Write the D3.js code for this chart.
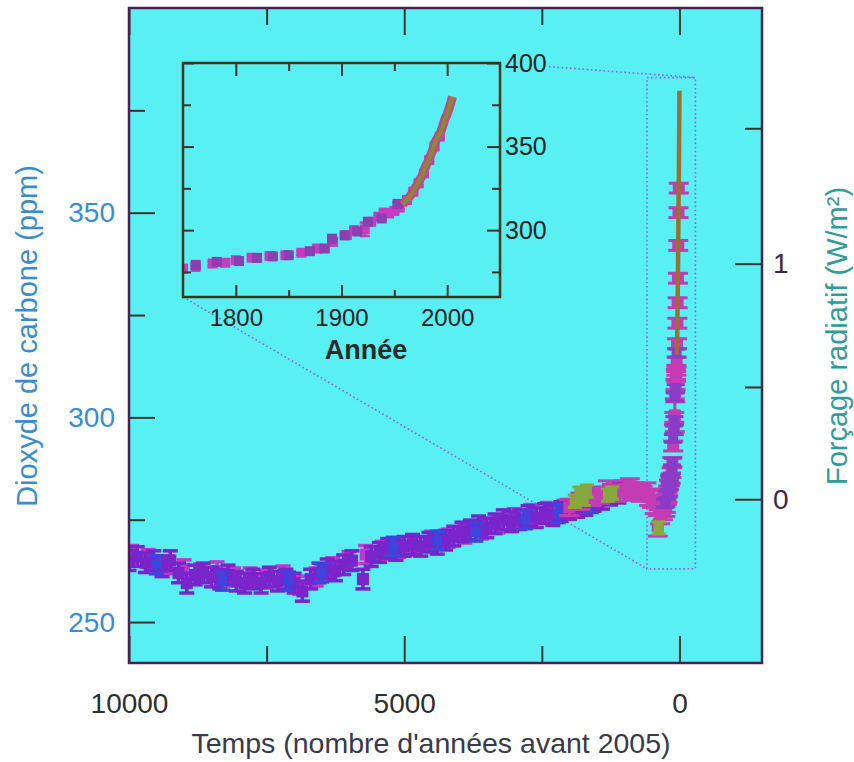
<!DOCTYPE html>
<html>
<head>
<meta charset="UTF-8" />
<title>co2</title>
<script src="https://cdnjs.cloudflare.com/ajax/libs/d3/7.8.5/d3.min.js"></script>
<style>
  body { margin: 0; background: #fff; }
  text { font-family: "Liberation Sans", Arial, sans-serif; }
</style>
</head>
<body>
<svg width="854" height="762"></svg>
<script>
  // ---- data ----
  // holocene ice cores: [years before 2005, ppm]
  var taylorBP = [[10000,265],[9850,266],[9700,264.5],[9550,265],[9400,263.5],[9250,265],[9100,262],[8950,259.5],
    [8800,261.5],[8650,262],[8500,261],[8350,260.5],[8200,261.5],[8050,260],[7900,259.5],[7750,260.5],[7600,259.5],
    [7450,261],[7300,260],[7150,260.5],[7000,259.5],[6850,257.5],[6700,260.5],[6550,262],[6400,263],[6250,262.5],
    [6100,264],[5950,265],[5750,260.5],[5600,266],[5450,267],[5300,268],[5150,267.5],[5000,268.5],[4850,269],
    [4700,268.5],[4550,269.5],[4400,269],[4250,270],[4100,271],[3950,272],[3800,272.5],[3650,273.5],[3500,273],
    [3350,274],[3200,275],[3050,274.5],[2900,275],[2750,276],[2600,275.5],[2450,276.5],[2300,276],[2150,277],
    [2000,277.5],[1850,278],[1700,278.5],[1550,279.5],[1400,280],[1250,281],[1100,281.5]];
  var domeCBP = [[9950,266.5],[9650,265.5],[9300,264],[9000,263],[8700,262],[8400,262.5],[8100,261],[7800,261],
    [7500,260.5],[7200,261.5],[6900,259],[6600,261],[6300,263.5],[6000,265],[5700,266.5],[5400,267.5],[5100,268],
    [4800,268.5],[4500,270],[4200,270.5],[3900,271.5],[3600,272.5],[3300,274],[3000,275.5],[2700,276.5],[2400,277],
    [2100,277.5],[1800,279],[1500,280],[1200,281.5],[900,282]];
  var byrdBP = [[9500,264],[8300,260],[7100,260],[6500,262],[5200,268.5],[4400,270],[3700,272],[2800,275],
    [2200,276.5],[1600,279]];
  var greenBP = [[1900,279.5],[1820,281.5],[1740,280],[1680,282],[1300,281],[1220,281.5],[380,273]];
  // last two millennia: [calendar year, ppm, error]
  var lawDome = [[5,278,2],[205,279.5,2],[405,280.5,2],[555,281,2],[705,282.5,2],[855,281.5,2],[1005,282.5,2],
    [1105,283,2],[1205,282,2],[1305,281.5,2],[1405,282,2],[1455,280.5,2],[1505,280,2],[1555,278.5,2],[1610,273.5,2.5],
    [1655,276,2],[1705,277,2],[1750,277,1.2],[1762,278,1.2],[1778,280,1.2],[1790,280.5,1.2],[1800,282,1.2],
    [1815,283.5,1.2],[1832,284.5,1.2],[1847,285,1.2],[1862,286.5,1.2],[1877,289,1.2],[1892,293,1.2],[1905,297,1.2],
    [1912,300,1.2],[1922,300.5,4],[1928,305,1.2],[1935,308,1.2],[1940,310.5,1.2],[1945,310,1.2],[1950,311.5,1.2],
    [1955,313.5,1.2],[1962,318,1.2],[1968,323,1.2],[1973,328,1.2],[1978,334,1.2],[1983,342,1.2],[1988,350,1.2],
    [1993,356,1.2]];
  var siple = [[1744,279,1],[1762,279.2,1],[1782,281,1],[1803,281.5,1],[1820,283.4,1],[1835,284.3,1],[1850,285,1],
    [1870,287.4,1],[1884,289,1],[1891,294.9,1],[1903,296.9,1],[1915,299.2,1],[1925,305,1],[1938,307,1],[1953,315.7,1]];
  var maunaLoa = [[1958,315.3],[1960,316.9],[1962,318.4],[1964,319.6],[1966,321.4],[1968,323],[1970,325.7],
    [1972,327.5],[1974,330.2],[1976,332.1],[1978,335.4],[1980,338.7],[1982,341.1],[1984,344.4],[1986,347.2],
    [1988,351.6],[1990,354.4],[1992,356.4],[1994,358.8],[1996,362.6],[1998,366.7],[2000,369.5],[2002,373.2],
    [2004,377.5],[2005,379.8]];

  // ticks
  var xTicks = [10000, 5000, 0], xMinor = [7500, 2500];
  var yTicks = [250, 300, 350], yMinor = [275, 325, 375];
  var fTicks = [0, 1], fMinor = [0.5, 1.5];
  var ixTicks = [1800, 1900, 2000], ixMinor = [1850, 1950];
  var iyTicks = [300, 350, 400], iyMinor = [275, 325, 375];
  // zoomed window on the main plot [BP from, BP to, ppm low, ppm high]
  var zoomBox = [590, -290, 263, 383];

  var svg = d3.select("svg");
  var bg = "#58f0f3";
  var tickCol = "#40302a";

  var x = d3.scaleLinear().domain([10000, -1500]).range([129, 762]);
  var y = d3.scaleLinear().domain([240, 400]).range([663, 8]);
  var ix = d3.scaleLinear().domain([1750, 2050]).range([183, 500]);
  var iy = d3.scaleLinear().domain([260, 400]).range([297, 63]);
  var C0 = 280;
  function toPpm(f) { return C0 * Math.exp(f / 5.35); }
  function toBP(d) { return [2005 - d[0], d[1], d[2]]; }

  var defs = svg.append("defs");
  defs.append("clipPath").attr("id", "mainClip").append("rect")
    .attr("x", 129).attr("y", 8).attr("width", 633).attr("height", 655);
  defs.append("clipPath").attr("id", "insetClip").append("rect")
    .attr("x", 183).attr("y", 63).attr("width", 317).attr("height", 234);

  // background
  svg.append("rect").attr("x", 129).attr("y", 8).attr("width", 633).attr("height", 655).attr("fill", bg);

  // zoom box and connecting lines
  var bx0 = x(zoomBox[0]), bx1 = x(zoomBox[1]), by0 = y(zoomBox[3]), by1 = y(zoomBox[2]);
  var zg = svg.append("g").attr("stroke", "#9a5fd6").attr("stroke-width", 1.6)
    .attr("stroke-dasharray", "1.6,2.6").attr("fill", "none");
  zg.append("rect").attr("x", bx0).attr("y", by0).attr("width", bx1 - bx0).attr("height", by1 - by0);
  zg.append("line").attr("x1", 183).attr("y1", 297).attr("x2", bx0).attr("y2", by1);
  var t0 = (549 - 500) / (bx1 - 500);
  zg.append("line").attr("x1", 549).attr("y1", 63 + t0 * (by0 - 63)).attr("x2", bx1).attr("y2", by0);

  function drawPoints(g, data, px, py, color, err, cap, r, sw) {
    var s = g.append("g").selectAll("g").data(data).enter().append("g")
      .attr("stroke", color).attr("fill", color);
    function e(d) { return d[2] != null ? d[2] : err; }
    s.append("line").attr("stroke-width", sw)
      .attr("x1", d => px(d[0])).attr("x2", d => px(d[0]))
      .attr("y1", d => py(d[1] - e(d))).attr("y2", d => py(d[1] + e(d)));
    s.append("line").attr("stroke-width", sw)
      .attr("x1", d => px(d[0]) - cap / 2).attr("x2", d => px(d[0]) + cap / 2)
      .attr("y1", d => py(d[1] + e(d))).attr("y2", d => py(d[1] + e(d)));
    s.append("line").attr("stroke-width", sw)
      .attr("x1", d => px(d[0]) - cap / 2).attr("x2", d => px(d[0]) + cap / 2)
      .attr("y1", d => py(d[1] - e(d))).attr("y2", d => py(d[1] - e(d)));
    s.append("rect").attr("stroke", "none").attr("width", 2 * r).attr("height", 2 * r)
      .attr("x", d => px(d[0]) - r).attr("y", d => py(d[1]) - r);
  }

  // main data
  var mg = svg.append("g").attr("clip-path", "url(#mainClip)");
  drawPoints(mg, domeCBP, x, y, "#c038d2", 2.2, 15, 6, 3.5);
  drawPoints(mg, taylorBP, x, y, "#7a24cc", 2.4, 15, 6, 3.5);
  drawPoints(mg, byrdBP, x, y, "#3f44dc", 2.2, 15, 5, 3.5);
  drawPoints(mg, lawDome.map(toBP), x, y, "#c43cb4", 2, 20, 6, 3);
  drawPoints(mg, greenBP, x, y, "#86a83e", 1.5, 14, 5, 3);
  drawPoints(mg, siple.map(toBP), x, y, "#8a3cc8", 1, 18, 5, 3);
  mg.append("path").datum(maunaLoa.map(toBP)).attr("fill", "none").attr("stroke", "#9a7030").attr("stroke-width", 4.5)
    .attr("d", d3.line().x(d => x(d[0])).y(d => y(d[1])));

  // inset
  var ig = svg.append("g");
  ig.append("rect").attr("x", 183).attr("y", 63).attr("width", 317).attr("height", 234).attr("fill", bg);
  var idg = ig.append("g").attr("clip-path", "url(#insetClip)");
  drawPoints(idg, lawDome, ix, iy, "#c83ac0", 2, 10, 5, 2.5);
  drawPoints(idg, siple, ix, iy, "#8a40b0", 2, 10, 5, 2.5);
  idg.append("path").datum(maunaLoa).attr("fill", "none").attr("stroke", "#c04a8a").attr("stroke-width", 9)
    .attr("d", d3.line().x(d => ix(d[0])).y(d => iy(d[1])));
  idg.append("path").datum(maunaLoa).attr("fill", "none").attr("stroke", "#8a8a34").attr("stroke-width", 4)
    .attr("d", d3.line().x(d => ix(d[0])).y(d => iy(d[1])));

  function styleAxis(g, color, size) {
    g.attr("font-size", null).attr("font-family", null);
    g.select(".domain").remove();
    g.selectAll(".tick line").attr("stroke", tickCol).attr("stroke-width", 2);
    g.selectAll(".tick text").attr("fill", color).style("font-size", size + "px");
    return g;
  }

  // inset axes
  styleAxis(ig.append("g").attr("transform", "translate(0,297)")
    .call(d3.axisBottom(ix).tickValues(ixTicks).tickSize(-12).tickPadding(12).tickFormat(d3.format("d"))), "#222", 24);
  styleAxis(ig.append("g").attr("transform", "translate(0,297)")
    .call(d3.axisBottom(ix).tickValues(ixMinor).tickSize(-7).tickFormat("")), "#222", 24);
  styleAxis(ig.append("g").attr("transform", "translate(0,63)")
    .call(d3.axisTop(ix).tickValues(ixTicks).tickSize(-13).tickFormat("")), "#222", 24);
  styleAxis(ig.append("g").attr("transform", "translate(0,63)")
    .call(d3.axisTop(ix).tickValues(ixMinor).tickSize(-8).tickFormat("")), "#222", 24);
  styleAxis(ig.append("g").attr("transform", "translate(500,0)")
    .call(d3.axisRight(iy).tickValues(iyTicks).tickSize(-13).tickPadding(5).tickFormat(d3.format("d"))), "#222", 25);
  styleAxis(ig.append("g").attr("transform", "translate(500,0)")
    .call(d3.axisRight(iy).tickValues(iyMinor).tickSize(-8).tickFormat("")), "#222", 25);
  styleAxis(ig.append("g").attr("transform", "translate(183,0)")
    .call(d3.axisLeft(iy).tickValues(iyTicks).tickSize(-11).tickFormat("")), "#222", 25);
  styleAxis(ig.append("g").attr("transform", "translate(183,0)")
    .call(d3.axisLeft(iy).tickValues(iyMinor).tickSize(-8).tickFormat("")), "#222", 25);
  ig.append("rect").attr("x", 183).attr("y", 63).attr("width", 317).attr("height", 234)
    .attr("fill", "none").attr("stroke", "#3c3416").attr("stroke-width", 2.5);
  ig.append("text").attr("x", 366).attr("y", 359).attr("text-anchor", "middle")
    .attr("font-weight", "bold").attr("font-size", 27).attr("fill", "#2a2a2a").text("Année");

  // main axes
  var labCol = "#2e2e2e", leftCol = "#3a8ccf";
  styleAxis(svg.append("g").attr("transform", "translate(0,663)")
    .call(d3.axisBottom(x).tickValues(xTicks).tickSize(-27).tickPadding(30).tickFormat(d3.format("d"))), labCol, 28);
  styleAxis(svg.append("g").attr("transform", "translate(0,663)")
    .call(d3.axisBottom(x).tickValues(xMinor).tickSize(-17).tickFormat("")), labCol, 28);
  styleAxis(svg.append("g").attr("transform", "translate(0,8)")
    .call(d3.axisTop(x).tickValues(xTicks).tickSize(-27).tickFormat("")), labCol, 28);
  styleAxis(svg.append("g").attr("transform", "translate(0,8)")
    .call(d3.axisTop(x).tickValues(xMinor).tickSize(-17).tickFormat("")), labCol, 28);
  styleAxis(svg.append("g").attr("transform", "translate(129,0)")
    .call(d3.axisLeft(y).tickValues(yTicks).tickSize(-26).tickPadding(14).tickFormat(d3.format("d"))), leftCol, 28);
  styleAxis(svg.append("g").attr("transform", "translate(129,0)")
    .call(d3.axisLeft(y).tickValues(yMinor).tickSize(-16).tickFormat("")), leftCol, 28);
  styleAxis(svg.append("g").attr("transform", "translate(762,0)")
    .call(d3.axisRight(y).tickValues(fTicks.map(toPpm)).tickSize(-27).tickPadding(11)
      .tickFormat(d => d3.format(".0f")(5.35 * Math.log(d / C0)))), "#3a2a48", 28);
  styleAxis(svg.append("g").attr("transform", "translate(762,0)")
    .call(d3.axisRight(y).tickValues(fMinor.map(toPpm)).tickSize(-17).tickFormat("")), "#3a2a48", 28);

  svg.append("rect").attr("x", 129).attr("y", 8).attr("width", 633).attr("height", 655)
    .attr("fill", "none").attr("stroke", "#4a2050").attr("stroke-width", 2.5);

  // titles
  svg.append("text").attr("x", 431).attr("y", 753).attr("text-anchor", "middle")
    .attr("font-size", 28.5).attr("fill", "#373a4c").text("Temps (nombre d'années avant 2005)");
  svg.append("text").attr("transform", "translate(37,336) rotate(-90)").attr("text-anchor", "middle")
    .attr("font-size", 29).attr("fill", leftCol).text("Dioxyde de carbone (ppm)");
  svg.append("text").attr("transform", "translate(847,336) rotate(-90)").attr("text-anchor", "middle")
    .attr("font-size", 29).attr("fill", "#2f9c98").text("Forçage radiatif (W/m²)");
</script>
</body>
</html>
